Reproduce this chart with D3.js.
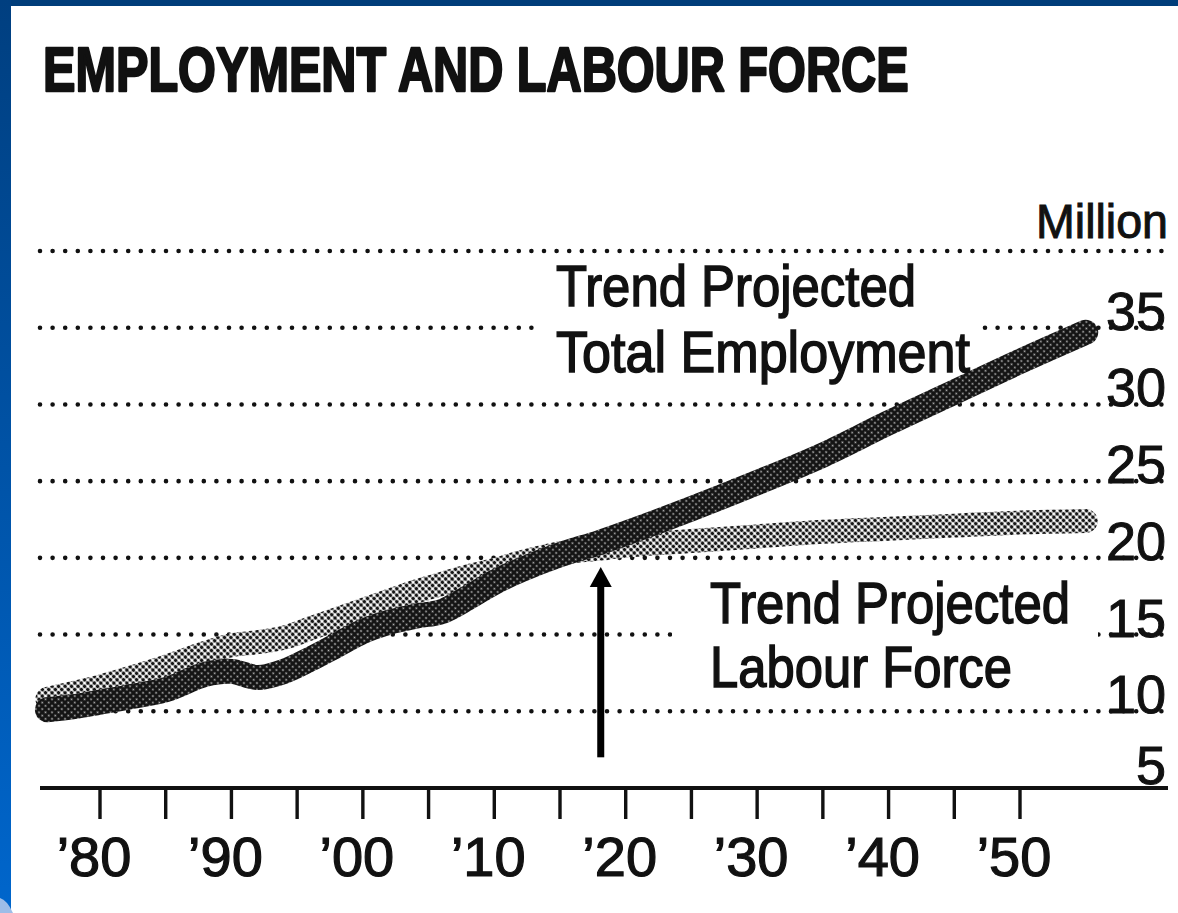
<!DOCTYPE html>
<html>
<head>
<meta charset="utf-8">
<script src="https://cdn.jsdelivr.net/npm/d3@7"></script>
<style>
  html, body { margin: 0; padding: 0; background: #fff; }
  svg { display: block; }
  text { font-family: "Liberation Sans Narrow", "Liberation Sans", Arial, sans-serif; fill: #111; }
</style>
</head>
<body>
<svg id="chart" width="1178" height="913"></svg>
<script>
// ---------- DATA ----------
const title = "EMPLOYMENT AND LABOUR FORCE";
const unitLabel = "Million";
const years = [1976, 1978, 1980, 1982, 1985, 1988, 1990, 1992, 1994, 1996, 1998, 2000, 2002, 2004, 2006, 2008, 2010, 2012, 2015, 2018, 2020, 2025, 2030, 2035, 2040, 2045, 2050, 2055];
const totalEmployment = [10.1, 10.3, 10.6, 10.9, 11.4, 12.4, 12.6, 12.2, 12.6, 13.4, 14.3, 15.2, 15.8, 16.2, 16.5, 17.4, 18.4, 19.2, 20.2, 21.0, 21.6, 23.2, 24.9, 26.7, 28.8, 30.8, 32.8, 34.7];
const labourForce     = [10.8, 11.2, 11.6, 12.1, 12.9, 13.8, 14.3, 14.5, 14.8, 15.4, 16.0, 16.6, 17.2, 17.8, 18.3, 18.8, 19.2, 19.7, 20.3, 20.6, 20.8, 21.1, 21.4, 21.7, 21.9, 22.1, 22.3, 22.4];
const yTicks = [5, 10, 15, 20, 25, 30, 35];
const gridValues = [10, 15, 20, 25, 30, 35, 40];
const xTicks = [1980, 1985, 1990, 1995, 2000, 2005, 2010, 2015, 2020, 2025, 2030, 2035, 2040, 2045, 2050];
const xLabelYears = [1980, 1990, 2000, 2010, 2020, 2030, 2040, 2050];
const xTickLabels = ["’80", "’90", "’00", "’10", "’20", "’30", "’40", "’50"];
const employmentLabel = ["Trend Projected", "Total Employment"];
const labourLabel = ["Trend Projected", "Labour Force"];
const arrowYear = 2018.1, arrowFrom = 7.0, arrowTo = 19.4;

// ---------- SETUP ----------
const svg = d3.select("#chart");
const defs = svg.append("defs");

const lg = defs.append("linearGradient").attr("id", "leftBlue").attr("x1", 0).attr("y1", 0).attr("x2", 0).attr("y2", 1);
lg.append("stop").attr("offset", "0%").attr("stop-color", "#003f80");
lg.append("stop").attr("offset", "100%").attr("stop-color", "#0066cc");

// halftone patterns
const pd = defs.append("pattern").attr("id", "darkHT").attr("width", 4.6).attr("height", 4.6)
  .attr("patternUnits", "userSpaceOnUse").attr("patternTransform", "rotate(45)");
pd.append("rect").attr("width", 4.6).attr("height", 4.6).attr("fill", "#141414");
pd.append("circle").attr("cx", 2.3).attr("cy", 2.3).attr("r", 1.0).attr("fill", "#fff").attr("opacity", 0.7);

const pl = defs.append("pattern").attr("id", "lightHT").attr("width", 4.6).attr("height", 4.6)
  .attr("patternUnits", "userSpaceOnUse").attr("patternTransform", "rotate(45)");
pl.append("rect").attr("width", 4.6).attr("height", 4.6).attr("fill", "#fff");
pl.append("circle").attr("cx", 2.3).attr("cy", 2.3).attr("r", 1.95).attr("fill", "#151515");

// background & frame
svg.append("rect").attr("width", 1178).attr("height", 913).attr("fill", "#fff");
svg.append("rect").attr("x", 0).attr("y", 0).attr("width", 1178).attr("height", 6).attr("fill", "#003d7a");
svg.append("rect").attr("x", 0).attr("y", 0).attr("width", 11).attr("height", 913).attr("fill", "url(#leftBlue)");
svg.append("path").attr("d", "M0,898 Q7,900 13,913 L0,913 Z").attr("fill", "#9dbde8");

// scales
const x = d3.scaleLinear().domain([1980, 2050]).range([100, 1020]);
const y = d3.scaleLinear().domain([5, 40]).range([788, 251]);

// title (bold, horizontally condensed to fit)
const titleG = svg.append("g");
const titleT = titleG.append("text").attr("x", 0).attr("y", 0)
  .attr("font-size", 63).attr("font-weight", "bold")
  .attr("stroke", "#111").attr("stroke-width", 2.4).attr("stroke-linejoin", "round")
  .text(title);
const tw = titleT.node().getComputedTextLength();
titleG.attr("transform", `translate(43,91) scale(${(866 / tw).toFixed(4)},1)`);

// dotted gridlines
svg.append("g").selectAll("line").data(gridValues).join("line")
  .attr("x1", 40).attr("x2", 1165)
  .attr("y1", d => y(d)).attr("y2", d => y(d))
  .attr("stroke", "#111").attr("stroke-width", 4.6)
  .attr("stroke-linecap", "round").attr("stroke-dasharray", "0 12.6");

// knockouts behind annotation text
svg.append("rect").attr("x", 540).attr("y", 258).attr("width", 438).attr("height", 130).attr("fill", "#fff");
svg.append("rect").attr("x", 672).attr("y", 574).attr("width", 426).attr("height", 126).attr("fill", "#fff");

// series lines
const line = d3.line().x((d, i) => x(years[i])).y(d => y(d)).curve(d3.curveCatmullRom.alpha(0.5));
svg.append("path").datum(labourForce).attr("d", line)
  .attr("fill", "none").attr("stroke", "url(#lightHT)").attr("stroke-width", 24)
  .attr("stroke-linecap", "round").attr("stroke-linejoin", "round");
svg.append("path").datum(totalEmployment).attr("d", line)
  .attr("fill", "none").attr("stroke", "url(#darkHT)").attr("stroke-width", 25)
  .attr("stroke-linecap", "round").attr("stroke-linejoin", "round");

// x axis
const xAxisY = y(5);
svg.append("line").attr("x1", 40).attr("x2", 1168).attr("y1", xAxisY).attr("y2", xAxisY)
  .attr("stroke", "#111").attr("stroke-width", 4);
svg.append("g").selectAll("line").data(xTicks).join("line")
  .attr("x1", d => x(d)).attr("x2", d => x(d))
  .attr("y1", xAxisY).attr("y2", xAxisY + 31)
  .attr("stroke", "#111").attr("stroke-width", 3.4);
svg.append("g").selectAll("text").data(xLabelYears).join("text")
  .attr("x", d => x(d) - 6).attr("y", xAxisY + 88)
  .attr("text-anchor", "middle").attr("font-size", 56)
  .attr("stroke", "#111").attr("stroke-width", 1.2)
  .text((d, i) => xTickLabels[i]);

// y labels (right)
svg.append("g").selectAll("text").data(yTicks).join("text")
  .attr("x", 1166).attr("y", d => d === 5 ? y(d) - 4 : y(d) + 2)
  .attr("text-anchor", "end").attr("font-size", 54)
  .attr("stroke", "#111").attr("stroke-width", 1.0)
  .text(d => d);
svg.append("text").attr("x", 1168).attr("y", 238)
  .attr("text-anchor", "end").attr("font-size", 48)
  .attr("stroke", "#111").attr("stroke-width", 1.0)
  .attr("textLength", 132).attr("lengthAdjust", "spacingAndGlyphs")
  .text(unitLabel);

// annotations
function label(lines, x0, ys, widths) {
  lines.forEach((t, i) => {
    svg.append("text").attr("x", x0).attr("y", ys[i])
      .attr("font-size", 57)
      .attr("stroke", "#111").attr("stroke-width", 1.5)
      .attr("textLength", widths[i]).attr("lengthAdjust", "spacingAndGlyphs")
      .text(t);
  });
}
label(employmentLabel, 556, [306, 372], [360, 414]);
label(labourLabel, 710, [623, 687], [360, 302]);

// arrow
const ax = x(arrowYear);
svg.append("rect").attr("x", ax - 3.5).attr("y", y(arrowTo) + 18).attr("width", 7).attr("height", y(arrowFrom) - y(arrowTo) - 18).attr("fill", "#000");
svg.append("path").attr("d", `M${ax},${y(arrowTo)} L${ax + 11},${y(arrowTo) + 20} L${ax - 11},${y(arrowTo) + 20} Z`).attr("fill", "#000");
</script>
</body>
</html>
